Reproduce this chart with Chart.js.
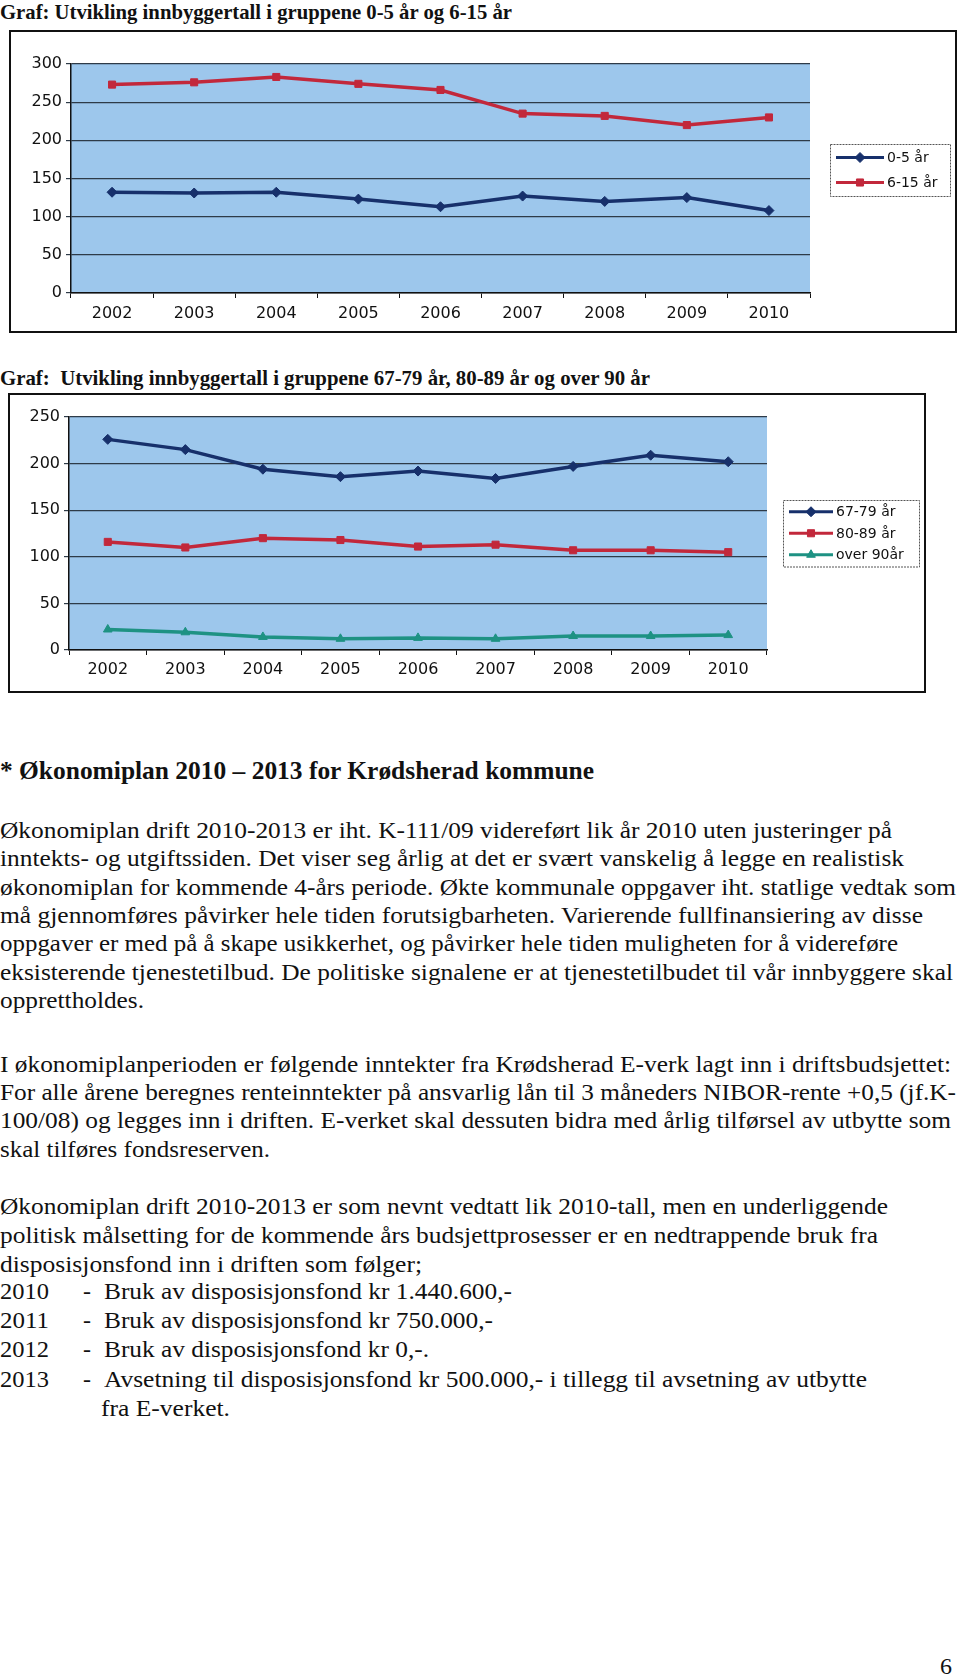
<!DOCTYPE html>
<html>
<head>
<meta charset="utf-8">
<script src="https://cdn.jsdelivr.net/npm/chart.js@4.4.1/dist/chart.umd.min.js"></script>
<style>
  html,body{margin:0;padding:0;background:#fff;}
  body{width:960px;height:1676px;position:relative;overflow:hidden;font-family:'Liberation Serif','Times New Roman',serif;color:#111;}
  .t{position:absolute;white-space:nowrap;line-height:28px;font-size:24px;transform-origin:0 50%;}
  .h{font-weight:bold;}
  .frame{position:absolute;border:2px solid #111;background:#fff;}
  .frame canvas{position:absolute;left:0;top:0;}
</style>
</head>
<body>

<!-- chart 1 -->
<div class="t h" data-w="512" style="left:0;top:-2px;font-size:22px">Graf: Utvikling innbyggertall i gruppene 0-5 år og 6-15 år</div>
<div class="frame" style="left:9px;top:30px;width:944px;height:299px"><canvas id="c1" width="944" height="299"></canvas></div>

<!-- chart 2 -->
<div class="t h" data-w="650" style="left:0;top:364px;font-size:22px">Graf:&nbsp; Utvikling innbyggertall i gruppene 67-79 år, 80-89 år og over 90 år</div>
<div class="frame" style="left:8px;top:393px;width:914px;height:296px"><canvas id="c2" width="914" height="296"></canvas></div>

<!-- text -->
<div class="t h" data-w="594" style="left:0;top:757px;font-size:25px">* Økonomiplan 2010 – 2013 for Krødsherad kommune</div>

<div class="t" data-w="892" style="left:0;top:816px">Økonomiplan drift 2010-2013 er iht. K-111/09 videreført lik år 2010 uten justeringer på</div>
<div class="t" data-w="904" style="left:0;top:844px">inntekts- og utgiftssiden. Det viser seg årlig at det er svært vanskelig å legge en realistisk</div>
<div class="t" data-w="956" style="left:0;top:873px">økonomiplan for kommende 4-års periode. Økte kommunale oppgaver iht. statlige vedtak som</div>
<div class="t" data-w="923" style="left:0;top:901px">må gjennomføres påvirker hele tiden forutsigbarheten. Varierende fullfinansiering av disse</div>
<div class="t" data-w="898" style="left:0;top:929px">oppgaver er med på å skape usikkerhet, og påvirker hele tiden muligheten for å videreføre</div>
<div class="t" data-w="953" style="left:0;top:958px">eksisterende tjenestetilbud. De politiske signalene er at tjenestetilbudet til vår innbyggere skal</div>
<div class="t" data-w="144" style="left:0;top:986px">opprettholdes.</div>

<div class="t" data-w="951" style="left:0;top:1050px">I økonomiplanperioden er følgende inntekter fra Krødsherad E-verk lagt inn i driftsbudsjettet:</div>
<div class="t" data-w="956" style="left:0;top:1078px">For alle årene beregnes renteinntekter på ansvarlig lån til 3 måneders NIBOR-rente +0,5 (jf.K-</div>
<div class="t" data-w="951" style="left:0;top:1106px">100/08) og legges inn i driften. E-verket skal dessuten bidra med årlig tilførsel av utbytte som</div>
<div class="t" data-w="270" style="left:0;top:1135px">skal tilføres fondsreserven.</div>

<div class="t" data-w="888" style="left:0;top:1192px">Økonomiplan drift 2010-2013 er som nevnt vedtatt lik 2010-tall, men en underliggende</div>
<div class="t" data-w="878" style="left:0;top:1221px">politisk målsetting for de kommende års budsjettprosesser er en nedtrappende bruk fra</div>
<div class="t" data-w="422" style="left:0;top:1250px">disposisjonsfond inn i driften som følger;</div>
<div class="t" data-w="49" style="left:0;top:1277px">2010</div><div class="t" style="left:83px;top:1277px">-</div>
<div class="t" data-w="408" style="left:104px;top:1277px">Bruk av disposisjonsfond kr 1.440.600,-</div>
<div class="t" data-w="49" style="left:0;top:1306px">2011</div><div class="t" style="left:83px;top:1306px">-</div>
<div class="t" data-w="389" style="left:104px;top:1306px">Bruk av disposisjonsfond kr 750.000,-</div>
<div class="t" data-w="49" style="left:0;top:1335px">2012</div><div class="t" style="left:83px;top:1335px">-</div>
<div class="t" data-w="325" style="left:104px;top:1335px">Bruk av disposisjonsfond kr 0,-.</div>
<div class="t" data-w="49" style="left:0;top:1365px">2013</div><div class="t" style="left:83px;top:1365px">-</div>
<div class="t" data-w="763" style="left:104px;top:1365px">Avsetning til disposisjonsfond kr 500.000,- i tillegg til avsetning av utbytte</div>
<div class="t" data-w="129" style="left:101px;top:1394px">fra E-verket.</div>

<div class="t" style="left:940px;top:1652px;font-size:24px">6</div>

<script>
// fit each text line to the width it has in the scan
document.querySelectorAll('.t[data-w]').forEach(el=>{
  const w=el.getBoundingClientRect().width;
  el.style.transform='scaleX('+(+el.dataset.w/w)+')';
});

/* ---- data ---- */
const years=['2002','2003','2004','2005','2006','2007','2008','2009','2010'];
const age0_5=[132,131,132,123,113,127,120,125,108];
const age6_15=[273,276,283,274,266,235,232,220,230];
const age67_79=[226,215,194,186,192,184,197,209,202];
const age80_89=[116,110,120,118,111,113,107,107,105];
const over90=[22,19,14,12,13,12,15,15,16];

const C={navy:'#17306b',red:'#c2283b',teal:'#1e9283',plot:'#9dc7ec',grid:'#2e3b48',ink:'#111'};
Chart.defaults.font.family="'DejaVu Sans',Arial,sans-serif";
Chart.defaults.color=C.ink;
Chart.defaults.animation=false;

function ds(label,data,color,shape,r){
  return {label,data,borderColor:color,backgroundColor:color,borderWidth:3.5,
    pointStyle:shape,pointRadius:r,pointHoverRadius:r,pointBorderWidth:1,tension:0};
}

const plotBg={id:'plotBg',beforeDraw(ch){
  const{ctx,chartArea:a}=ch;ctx.save();ctx.fillStyle=C.plot;
  ctx.fillRect(a.left,a.top,a.right-a.left,a.bottom-a.top);ctx.restore();}};

// legend box drawn on canvas, position passed in via options
const boxLegend={id:'boxLegend',afterDraw(ch,args,o){
  const{ctx}=ch;ctx.save();
  const n=ch.data.datasets.length;
  const h=o.rowH*n+o.pad*2;
  ctx.fillStyle='#fff';ctx.fillRect(o.x,o.y,o.w,h);
  ctx.strokeStyle='#555';ctx.lineWidth=1;ctx.setLineDash([2,1]);
  ctx.strokeRect(o.x+.5,o.y+.5,o.w,h);ctx.setLineDash([]);
  ctx.font='14px '+Chart.defaults.font.family;ctx.textBaseline='middle';
  ch.data.datasets.forEach((d,i)=>{
    const cy=o.y+o.pad+o.rowH*i+o.rowH/2;
    ctx.strokeStyle=d.borderColor;ctx.lineWidth=3;
    ctx.beginPath();ctx.moveTo(o.x+6,cy);ctx.lineTo(o.x+6+o.line,cy);ctx.stroke();
    ctx.fillStyle=d.borderColor;ctx.strokeStyle=d.borderColor;ctx.lineWidth=1;
    Chart.helpers.drawPoint(ctx,{pointStyle:d.pointStyle,radius:d.pointRadius,borderWidth:1},o.x+6+o.line/2,cy);
    ctx.fillStyle=C.ink;ctx.fillText(d.label,o.x+9+o.line,cy+1);
  });
  ctx.restore();}};

function make(id,datasets,ymax,pad,yw,xh,xpad,leg){
  new Chart(document.getElementById(id),{type:'line',
    data:{labels:years,datasets},
    options:{responsive:false,devicePixelRatio:1,
      layout:{padding:pad},
      plugins:{legend:{display:false},tooltip:{enabled:false},boxLegend:leg},
      scales:{
        x:{offset:true,grid:{offset:true,drawOnChartArea:false,drawTicks:true,tickLength:5,color:C.ink},
           border:{color:C.ink,width:1.5},
           ticks:{font:{size:16},color:C.ink,padding:xpad,maxRotation:0},
           afterFit:s=>{s.height=xh;}},
        y:{min:0,max:ymax,grid:{color:C.grid,lineWidth:1.2,tickLength:5,drawTicks:true},
           border:{color:C.ink,width:1.5},
           ticks:{stepSize:50,font:{size:16},color:C.ink,padding:4},
           afterFit:s=>{s.width=yw;}}
      }},
    plugins:[plotBg,boxLegend]});
}

make('c1',[
    ds('0-5 år',age0_5,C.navy,'rectRot',5),
    ds('6-15 år',age6_15,C.red,'rect',5)
  ],300,{left:0,right:145,top:32,bottom:0},60,38,6,
  {x:819,y:112,w:120,rowH:25,pad:1,line:48});

make('c2',[
    ds('67-79 år',age67_79,C.navy,'rectRot',5),
    ds('80-89 år',age80_89,C.red,'rect',5),
    ds('over 90år',over90,C.teal,'triangle',5)
  ],250,{left:0,right:157,top:22,bottom:0},59,41,5,
  {x:773,y:105,w:136,rowH:21.5,pad:1,line:44});
</script>
</body>
</html>
